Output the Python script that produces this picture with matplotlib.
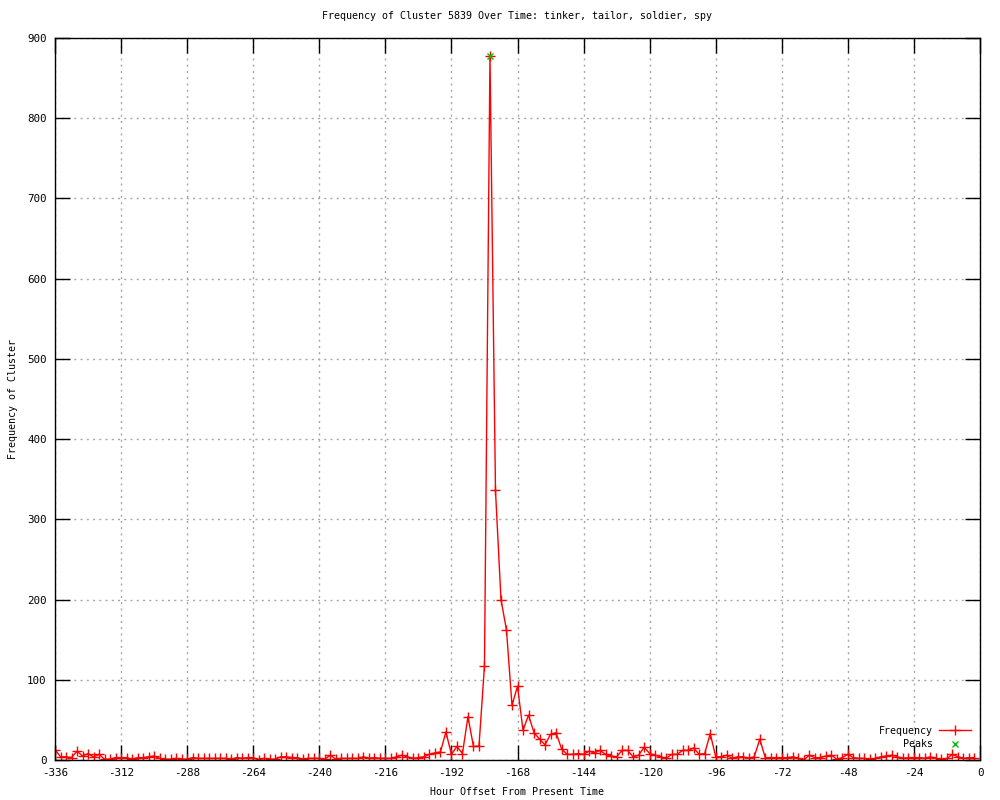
import matplotlib
matplotlib.use("Agg")
import matplotlib.pyplot as plt

# hourly offsets (every 2 h) and cluster counts
hours = list(range(-336, 0, 2))
freq = [
    13, 4, 4, 3, 11, 5, 8, 4, 7, 1, 1, 3,
    3, 3, 1, 3, 3, 4, 5, 2, 1, 1, 2, 1,
    1, 3, 2, 2, 2, 2, 2, 2, 1, 3, 2, 3,
    3, 0, 2, 1, 1, 4, 4, 3, 3, 1, 2, 2,
    2, 1, 6, 1, 2, 2, 2, 2, 4, 2, 3, 2,
    2, 2, 4, 6, 4, 2, 3, 4, 7, 9, 10, 35,
    7, 17, 8, 54, 17, 17, 117, 878, 336, 200, 162, 68,
    92, 37, 56, 34, 26, 19, 32, 34, 14, 7, 7, 8,
    7, 11, 9, 12, 7, 5, 4, 12, 12, 4, 6, 16,
    8, 6, 4, 2, 7, 7, 12, 12, 15, 7, 8, 33,
    4, 4, 6, 2, 4, 4, 2, 4, 26, 3, 3, 3,
    3, 3, 4, 2, 0, 6, 3, 3, 5, 6, 1, 3,
    7, 3, 2, 2, 1, 2, 4, 5, 6, 4, 2, 3,
    3, 3, 2, 4, 2, 1, 2, 7, 4, 2, 3, 3,
]
peak_hours = [-178]
peak_vals = [878]

xticks = list(range(-336, 1, 24))
yticks = list(range(0, 901, 100))

plt.rcParams['font.family'] = ['DejaVu Sans Mono']
plt.rcParams['axes.unicode_minus'] = False
fs = 7.2
tfs = 7.8

fig = plt.figure(figsize=(10, 8), dpi=100)
ax = fig.add_axes([0.055, 0.05, 0.925, 0.9025])

ax.plot(hours, freq, color="red", lw=1, marker="+", ms=6.5, mew=1, label="Frequency")
ax.plot(peak_hours, peak_vals, ls="none", color="#00c000", marker="x", ms=5, mew=1, label="Peaks")

ax.set_xlim(-336, 0)
ax.set_ylim(0, 900)
ax.set_xticks(xticks)
ax.set_yticks(yticks)
ax.tick_params(direction="in", length=11, width=1, top=True, right=True,
               labelsize=tfs, pad=6)
ax.grid(True, color="#a8a8a8", ls=(0, (1.5, 3)), lw=1)
for s in ax.spines.values():
    s.set_linewidth(1)

ax.set_title("Frequency of Cluster 5839 Over Time: tinker, tailor, soldier, spy",
             fontsize=fs, pad=14)
ax.set_xlabel("Hour Offset From Present Time", fontsize=fs)
ax.set_ylabel("Frequency of Cluster", fontsize=fs)
ax.xaxis.set_label_coords(0.5, -0.0443)
ax.yaxis.set_label_coords(-0.0454, 0.5)
ax.xaxis.label.set_va("center")
ax.yaxis.label.set_va("center")

ax.legend(loc="lower right", bbox_to_anchor=(0.998, 0.005), frameon=False,
          markerfirst=False, fontsize=fs, handlelength=3.2, labelspacing=0.35,
          borderaxespad=0.3, handletextpad=0.6)

fig.savefig("out.png", dpi=100)
